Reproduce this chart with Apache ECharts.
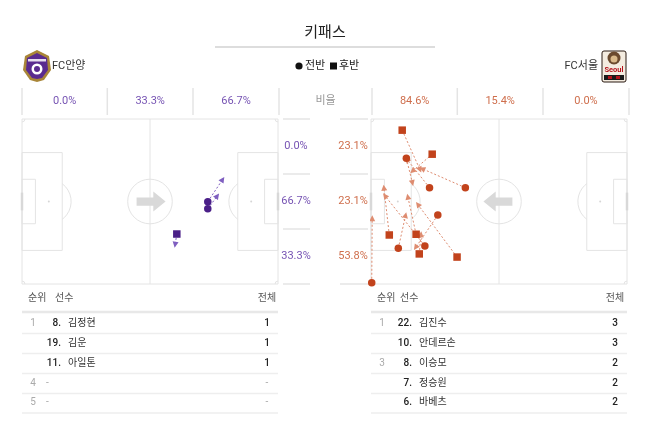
<!DOCTYPE html>
<html><head><meta charset="utf-8">
<script src="https://cdn.jsdelivr.net/npm/echarts@6/dist/echarts.min.js"></script>
<style>html,body{margin:0;padding:0;background:#fff}#c{width:650px;height:427px}</style>
</head><body><div id="c"></div><script>
// ---------- DATA ----------
const title = '키패스';
const homeTeam = 'FC안양';
const awayTeam = 'FC서울';
const halfLabels = ['전반', '후반'];
const ratioLabel = '비율';
const homeThirds = ['0.0%', '33.3%', '66.7%'];
const awayThirds = ['84.6%', '15.4%', '0.0%'];
const homeZones = ['0.0%', '66.7%', '33.3%'];
const awayZones = ['23.1%', '23.1%', '53.8%'];
// passes in pitch metres: [xStart, yStart, xEnd, yEnd, half(0=전반 circle, 1=후반 square)]
const homePasses = [
  [76.2, 34.1, 82.3, 24.9, 0],
  [76.2, 37.0, 80.1, 31.7, 0],
  [63.5, 47.4, 62.8, 51.8, 1]
];
const awayPasses = [
  [12.8, 4.6, 20.1, 20.9, 1],
  [25.1, 14.5, 17.0, 21.5, 1],
  [14.5, 16.2, 17.0, 26.4, 0],
  [24.0, 28.3, 14.8, 16.7, 0],
  [38.7, 28.3, 21.0, 20.5, 0],
  [27.4, 39.6, 18.3, 53.0, 0],
  [11.2, 53.3, 14.2, 39.6, 0],
  [22.1, 52.3, 5.7, 31.6, 0],
  [0.3, 67.5, 0.5, 40.9, 0],
  [7.5, 47.8, 5.3, 28.3, 1],
  [18.5, 47.5, 15.1, 32.0, 1],
  [19.8, 55.6, 20.5, 47.5, 1],
  [35.3, 56.9, 19.2, 35.2, 1]
];
const tableHeader = ['순위', '선수', '전체'];
const homeRanks = ['1', '', '', '4', '5'];
const homeNums = ['8.', '19.', '11.', '', ''];
const homeNames = ['김정현', '김운', '아일톤', '-', '-'];
const homeTotals = ['1', '1', '1', '-', '-'];
const awayRanks = ['1', '', '3', '', ''];
const awayNums = ['22.', '10.', '8.', '7.', '6.'];
const awayNames = ['김진수', '안데르손', '이승모', '정승원', '바베츠'];
const awayTotals = ['3', '3', '2', '2', '2'];

// ---------- STYLE / LAYOUT ----------
const FONT = "Roboto, 'Noto Sans CJK KR', sans-serif";
const PURPLE = '#4a1f88', PURPLE_T = '#7653b3';
const ORANGE = '#c2431c', ORANGE_T = '#cf6f4d';
const LINE_C = '#e4e4e4';
const gL = {left: 22, top: 119, width: 256, height: 165};
const gR = {left: 371, top: 119, width: 256, height: 165};

function txt(x, y, s, size, color, align, weight) {
  return {type: 'text', x: x, y: y, silent: true, z: 10,
    style: {text: s, fill: color, font: (weight || 'normal') + ' ' + size + 'px ' + FONT,
      align: align || 'center', verticalAlign: 'middle',
      textAlign: align || 'center', textVerticalAlign: 'middle'}};
}
function hline(x1, x2, y, w, c) {
  return {type: 'line', silent: true, shape: {x1: x1, y1: y, x2: x2, y2: y}, style: {stroke: c || LINE_C, lineWidth: w || 1}};
}
function vline(x, y1, y2, w, c) {
  return {type: 'line', silent: true, shape: {x1: x, y1: y1, x2: x, y2: y2}, style: {stroke: c || LINE_C, lineWidth: w || 1}};
}

const G = [];
// title
G.push(txt(325, 33, title, 15, '#222'));
G.push(hline(215, 435, 47, 2, '#dddddd'));
// team headers
G.push(txt(52, 66, homeTeam, 11, '#333', 'left'));
G.push(txt(598, 66, awayTeam, 11, '#333', 'right'));
// legend
G.push({type: 'circle', silent: true, shape: {cx: 299, cy: 66, r: 3.6}, style: {fill: '#111'}});
G.push(txt(305, 66, halfLabels[0], 11, '#222', 'left'));
G.push({type: 'rect', silent: true, shape: {x: 330, y: 62.5, width: 7, height: 7}, style: {fill: '#111'}});
G.push(txt(339, 66, halfLabels[1], 11, '#222', 'left'));
// logos (simplified)
G.push({type: 'polygon', silent: true, shape: {points: [[37, 50], [49, 56], [51, 70], [44, 80], [37, 82], [30, 80], [23, 70], [25, 56]]}, style: {fill: '#a98638'}});
G.push({type: 'polygon', silent: true, shape: {points: [[37, 53], [47, 58], [48, 70], [42, 78], [37, 79], [32, 78], [26, 70], [27, 58]]}, style: {fill: '#5a2b8f'}});
G.push({type: 'rect', silent: true, shape: {x: 28, y: 59, width: 18, height: 2.5}, style: {fill: '#ffffff', opacity: 0.85}});
G.push({type: 'circle', silent: true, shape: {cx: 37, cy: 69, r: 5.5}, style: {fill: '#ffffff'}});
G.push({type: 'circle', silent: true, shape: {cx: 37, cy: 69, r: 3}, style: {fill: '#5a2b8f'}});
G.push({type: 'rect', silent: true, shape: {x: 602, y: 51, width: 24, height: 31, r: 2}, style: {fill: '#f4ece0', stroke: '#2a1a12', lineWidth: 1}});
G.push({type: 'circle', silent: true, shape: {cx: 614, cy: 58, r: 6.5}, style: {fill: '#6b4a2e'}});
G.push({type: 'circle', silent: true, shape: {cx: 614, cy: 59, r: 3.5}, style: {fill: '#d9b98a'}});
G.push(txt(614, 70, 'Seoul', 7.5, '#b3121b', 'center', 'bold'));
G.push({type: 'rect', silent: true, shape: {x: 604, y: 75, width: 20, height: 5}, style: {fill: '#1a1a1a'}});
G.push({type: 'rect', silent: true, shape: {x: 608, y: 76, width: 4, height: 3}, style: {fill: '#b3121b'}});
G.push({type: 'rect', silent: true, shape: {x: 616, y: 76, width: 4, height: 3}, style: {fill: '#b3121b'}});

// top stats row
const colEdges = [22, 107.3, 193, 279, 372, 457.3, 543, 629];
colEdges.forEach(x => G.push(vline(x, 88, 115, 1.5)));
homeThirds.forEach((s, i) => G.push(txt((colEdges[i] + colEdges[i + 1]) / 2, 101, s, 11, PURPLE_T)));
G.push(txt((colEdges[3] + colEdges[4]) / 2, 101, ratioLabel, 11, '#9a9a9a'));
awayThirds.forEach((s, i) => G.push(txt((colEdges[i + 4] + colEdges[i + 5]) / 2, 101, s, 11, ORANGE_T)));

// zone columns
const zoneY = [119, 174, 229, 284];
zoneY.forEach(y => { G.push(hline(283, 310, y, 1.5)); G.push(hline(340, 368, y, 1.5)); });
homeZones.forEach((s, i) => G.push(txt(296, (zoneY[i] + zoneY[i + 1]) / 2, s, 11, PURPLE_T)));
awayZones.forEach((s, i) => G.push(txt(353, (zoneY[i] + zoneY[i + 1]) / 2, s, 11, ORANGE_T)));

// tables
function table(x0, x1, rankX, nameX, numEnd, totX, ranks, nums, names, totals, dashX) {
  G.push(txt(rankX - 5, 298, tableHeader[0], 10, '#555', 'left'));
  G.push(txt(nameX, 298, tableHeader[1], 10, '#555', 'left'));
  G.push(txt(totX, 298, tableHeader[2], 10, '#555'));
  G.push(hline(x0, x1, 312, 2.5, '#e8e8e8'));
  const rowY = [323, 343, 363, 383, 402.5];
  rowY.forEach((y, i) => {
    G.push(hline(x0, x1, y + 10.5, 1.5, '#eeeeee'));
    if (ranks[i]) G.push(txt(rankX, y, ranks[i], 10, '#aaa'));
    if (nums[i]) {
      G.push(txt(numEnd, y, nums[i], 10, '#222', 'right', '500'));
      G.push(txt(numEnd + 7, y, names[i], 10, '#333', 'left'));
    } else {
      G.push(txt(dashX, y, names[i], 10, '#aaa', 'left'));
    }
    G.push(txt(totX, y, totals[i], 10, totals[i] === '-' ? '#aaa' : '#222', 'center', totals[i] === '-' ? 'normal' : '500'));
  });
}
table(22, 278, 33, 55, 61, 267, homeRanks, homeNums, homeNames, homeTotals, 46);
table(371, 627, 382, 400, 412, 615, awayRanks, awayNums, awayNames, awayTotals, 400);

// ---------- PITCH ----------
function pitchRender(dir) {
  return function (params, api) {
    const c = (x, y) => api.coord([x, y]);
    const sx = c(1, 0)[0] - c(0, 0)[0];
    const st = {stroke: LINE_C, lineWidth: 1, fill: 'transparent'};
    const ch = [];
    const rect = (x1, y1, x2, y2) => { const a = c(x1, y1), b = c(x2, y2);
      ch.push({type: 'rect', shape: {x: a[0], y: a[1], width: b[0] - a[0], height: b[1] - a[1]}, style: st}); };
    const ln = (x1, y1, x2, y2, w, col) => { const a = c(x1, y1), b = c(x2, y2);
      ch.push({type: 'line', shape: {x1: a[0], y1: a[1], x2: b[0], y2: b[1]}, style: {stroke: col || LINE_C, lineWidth: w || 1}}); };
    const arc = (x, y, r, s, e) => { const a = c(x, y);
      ch.push({type: 'arc', shape: {cx: a[0], cy: a[1], r: r * sx, startAngle: s, endAngle: e, clockwise: true}, style: st}); };
    const dot = (x, y) => { const a = c(x, y);
      ch.push({type: 'circle', shape: {cx: a[0], cy: a[1], r: 1}, style: {fill: '#d6d6d6'}}); };
    rect(0, 0, 105, 68);
    ln(52.5, 0, 52.5, 68);
    arc(52.5, 34, 9.15, 0, Math.PI * 2);
    dot(52.5, 34);
    rect(0, 13.84, 16.5, 54.16); rect(88.5, 13.84, 105, 54.16);
    rect(0, 24.84, 5.5, 43.16); rect(99.5, 24.84, 105, 43.16);
    dot(11, 34); dot(94, 34);
    const t = Math.acos(5.5 / 9.15);
    arc(11, 34, 9.15, -t, t);
    arc(94, 34, 9.15, Math.PI - t, Math.PI + t);
    arc(0, 0, 1.2, 0, Math.PI / 2); arc(105, 0, 1.2, Math.PI / 2, Math.PI);
    arc(0, 68, 1.2, -Math.PI / 2, 0); arc(105, 68, 1.2, Math.PI, Math.PI * 1.5);
    ln(0, 30.34, 0, 37.66, 2.5, '#d8d8d8'); ln(105, 30.34, 105, 37.66, 2.5, '#d8d8d8');
    const ar = [[47.0, 32.3], [53.85, 32.3], [53.85, 29.9], [58.9, 34], [53.85, 38.1], [53.85, 35.7], [47.0, 35.7]];
    ch.push({type: 'polygon', shape: {points: ar.map(p => c(dir > 0 ? p[0] : 105 - p[0], p[1]))}, style: {fill: '#d9d9d9'}});
    return {type: 'group', children: ch};
  };
}

function passSeries(passes, idx, mark, lineCol) {
  return [
    {type: 'custom', xAxisIndex: idx, yAxisIndex: idx, data: [[0, 0]], silent: true, z: 1,
      renderItem: pitchRender(idx === 0 ? 1 : -1)},
    {type: 'lines', coordinateSystem: 'cartesian2d', xAxisIndex: idx, yAxisIndex: idx, z: 3, silent: true,
      symbol: ['none', 'triangle'], symbolSize: [0, 6],
      lineStyle: {color: lineCol, width: 1, type: [2, 2], opacity: 1},
      itemStyle: {color: mark, opacity: 1},
      data: passes.map(p => ({coords: [[p[0], p[1]], [p[2], p[3]]], lineStyle: {color: lineCol, opacity: 1}}))},
    {type: 'scatter', xAxisIndex: idx, yAxisIndex: idx, z: 4, silent: true, symbol: 'circle', symbolSize: 7.5,
      itemStyle: {color: mark, opacity: 1},
      data: passes.filter(p => p[4] === 0).map(p => [p[0], p[1]])},
    {type: 'scatter', xAxisIndex: idx, yAxisIndex: idx, z: 4, silent: true, symbol: 'rect', symbolSize: 7.5,
      itemStyle: {color: mark, opacity: 1},
      data: passes.filter(p => p[4] === 1).map(p => [p[0], p[1]])}
  ];
}

const axX = i => ({gridIndex: i, type: 'value', min: 0, max: 105, show: false});
const axY = i => ({gridIndex: i, type: 'value', min: 0, max: 68, inverse: true, show: false});

const chart = echarts.init(document.getElementById('c'));
chart.setOption({
  animation: false,
  backgroundColor: '#fff',
  grid: [gL, gR],
  xAxis: [axX(0), axX(1)],
  yAxis: [axY(0), axY(1)],
  graphic: G,
  series: [].concat(passSeries(homePasses, 0, PURPLE, '#7f5fc0'), passSeries(awayPasses, 1, ORANGE, '#de8c70'))
});
</script></body></html>
